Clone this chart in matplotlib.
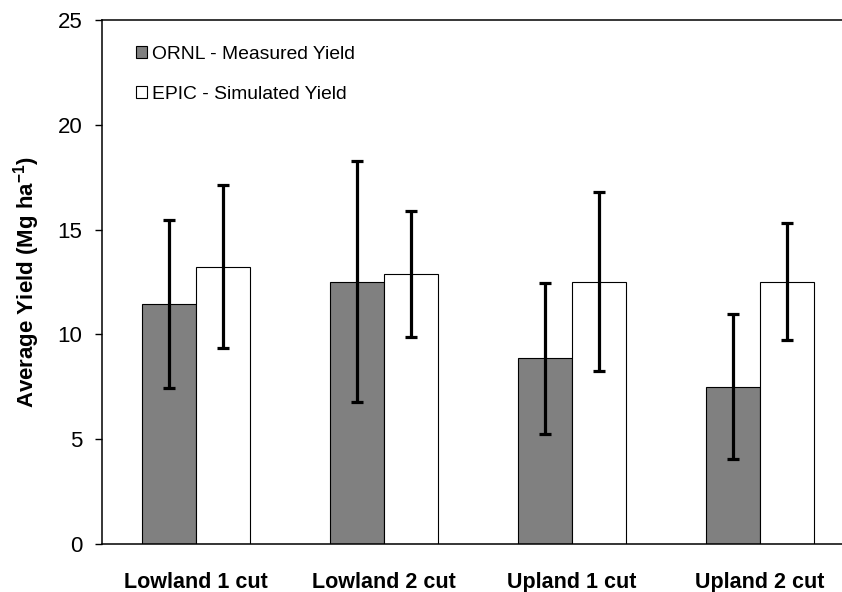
import numpy as np
import matplotlib.pyplot as plt
from matplotlib.patches import Patch

plt.rcParams['font.family'] = ['Liberation Sans', 'DejaVu Sans']
plt.rcParams['mathtext.fontset'] = 'custom'
plt.rcParams['mathtext.rm'] = 'Liberation Sans'
plt.rcParams['mathtext.bf'] = 'Liberation Sans:bold'

# data
sites = ['Lowland 1 cut', 'Lowland 2 cut', 'Upland 1 cut', 'Upland 2 cut']
ornl_yield = [11.45, 12.52, 8.87, 7.51]
ornl_err = [4.0, 5.75, 3.6, 3.45]
epic_yield = [13.23, 12.88, 12.52, 12.52]
epic_err = [3.9, 3.0, 4.27, 2.8]

W, H = 842, 592
fig = plt.figure(figsize=(W / 100, H / 100), dpi=100)
# right edge of the axes lies past the picture border (cropped in the original)
ax = fig.add_axes([102 / W, 1 - 544 / H, 752 / W, 524 / H])

x = np.arange(len(sites))
w = 0.287
err_kw = dict(elinewidth=2.3, capthick=2.3, capsize=4.5, ecolor='black')
ax.bar(x - w / 2, ornl_yield, w, color='#808080', edgecolor='black',
       linewidth=0.8, yerr=ornl_err, error_kw=err_kw)
ax.bar(x + w / 2, epic_yield, w, color='white', edgecolor='black',
       linewidth=0.8, yerr=epic_err, error_kw=err_kw)

ax.set_xlim(-0.5, 3.5)
ax.set_ylim(0, 25)
ax.set_yticks([0, 5, 10, 15, 20, 25])
ax.set_xticks(x)
ax.set_xticklabels(sites, fontsize=15.5, fontweight='bold')
ax.tick_params(axis='x', length=0, pad=20)
ax.tick_params(axis='y', direction='out', length=5, width=1, labelsize=16, pad=9)

for s in ['left', 'top', 'bottom']:
    ax.spines[s].set_linewidth(1.1)
ax.spines['right'].set_visible(False)

ax.set_ylabel('Average Yield (Mg ha$^{\\mathbf{-1}}$)', fontsize=16,
              fontweight='bold', labelpad=11)

handles = [Patch(facecolor='#808080', edgecolor='black', linewidth=0.8),
           Patch(facecolor='white', edgecolor='black', linewidth=0.8)]
ax.legend(handles, ['ORNL - Measured Yield', 'EPIC - Simulated Yield'],
          loc='upper left', bbox_to_anchor=(0.035, 0.966), frameon=False,
          fontsize=13.9, handlelength=0.55, handleheight=0.55,
          handletextpad=0.3, labelspacing=1.22, borderaxespad=0)

fig.savefig('out.png', dpi=100)
